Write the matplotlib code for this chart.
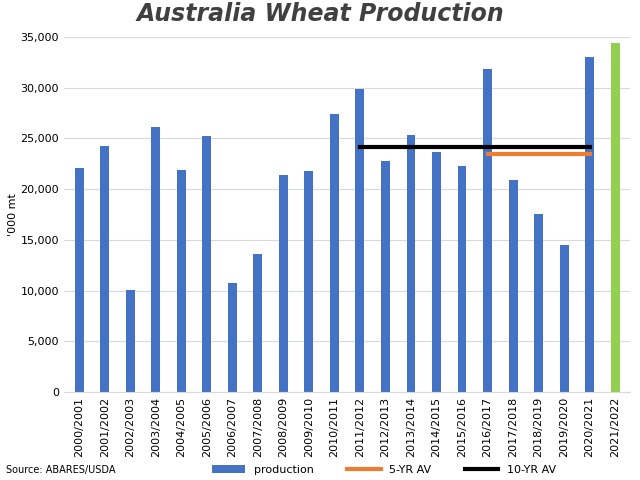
import matplotlib.pyplot as plt

years = ['2000/2001', '2001/2002', '2002/2003', '2003/2004', '2004/2005', '2005/2006',
         '2006/2007', '2007/2008', '2008/2009', '2009/2010', '2010/2011', '2011/2012',
         '2012/2013', '2013/2014', '2014/2015', '2015/2016', '2016/2017', '2017/2018',
         '2018/2019', '2019/2020', '2020/2021', '2021/2022']
production = [22100, 24300, 10100, 26100, 21900, 25200, 10800, 13600, 21400, 21800,
              27400, 29900, 22800, 25300, 23700, 22300, 31800, 20900, 17600, 14500,
              33000, 34400]
avg5 = 23500
avg10 = 24200
avg5_span = ('2016/2017', '2020/2021')
avg10_span = ('2011/2012', '2020/2021')

fig = plt.figure(figsize=(6.4, 4.8), dpi=100)
ax = fig.add_axes([0.1, 0.183, 0.885, 0.74])

x = list(range(len(years)))
colors = ['#4472C4'] * (len(years) - 1) + ['#92D050']
bars = ax.bar(x, production, width=0.35, color=colors, label='production', zorder=2)

i0, i1 = years.index(avg5_span[0]), years.index(avg5_span[1])
l5, = ax.plot([i0, i1], [avg5, avg5], color='#ED7D31', lw=3, label='5-YR AV', zorder=3)
i0, i1 = years.index(avg10_span[0]), years.index(avg10_span[1])
l10, = ax.plot([i0, i1], [avg10, avg10], color='black', lw=3, label='10-YR AV', zorder=3)

ax.set_xlim(-0.6, len(years) - 0.4)
ax.set_ylim(0, 35000)
ax.set_yticks(range(0, 35001, 5000))
ax.set_yticklabels([f'{v:,}' for v in range(0, 35001, 5000)], fontsize=8)
ax.set_xticks(x)
ax.set_xticklabels(years, rotation=90, fontsize=8)
ax.yaxis.grid(True, color='#D9D9D9', zorder=0)
ax.tick_params(length=0)
for s in ['top', 'right', 'left']:
    ax.spines[s].set_visible(False)
ax.spines['bottom'].set_color('#D9D9D9')
ax.set_ylabel("'000 mt", fontsize=8, labelpad=2)

fig.suptitle('Australia Wheat Production', fontsize=17, fontweight='bold',
             style='italic', color='#404040', y=0.995)
fig.legend([bars, l5, l10], ['production', '5-YR AV', '10-YR AV'],
           loc='lower center', bbox_to_anchor=(0.6, -0.01), ncol=3, frameon=False,
           fontsize=8, handlelength=3, columnspacing=3)
fig.text(0.01, 0.015, 'Source: ABARES/USDA', fontsize=7)

fig.savefig('out.png')
